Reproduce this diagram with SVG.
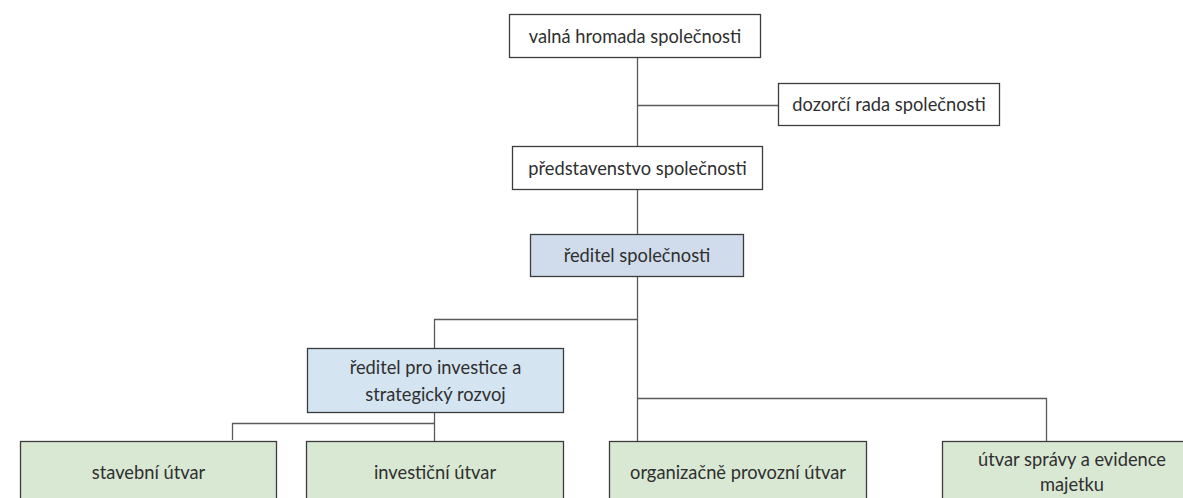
<svg xmlns="http://www.w3.org/2000/svg" width="1183" height="498" viewBox="0 0 1183 498">
<style>
.box{stroke:#3c3c3c;stroke-width:1.3}
.w{fill:#ffffff}
.b1{fill:#d0dcec}
.b2{fill:#d4e4f1}
.g{fill:#d9e8d3}
.t{font-family:Lato,"Open Sans","Liberation Sans",sans-serif;font-size:18.3px;fill:#2f2f2f;text-anchor:middle;dominant-baseline:central}
.c{fill:none;stroke:#5a5a5a;stroke-width:1.3}
</style>
<rect width="1183" height="498" fill="#ffffff"/>
<g id="connectors">
<path class="c" d="M637.5 57V146"/>
<path class="c" d="M637.5 105.5H778"/>
<path class="c" d="M637.5 189V234"/>
<path class="c" d="M637.5 276V441"/>
<path class="c" d="M637.5 319.5H434.5V348"/>
<path class="c" d="M637.5 398.5H1046.5V441"/>
<path class="c" d="M434.5 412V441"/>
<path class="c" d="M434.5 423.5H232.5V440"/>
</g>
<g id="valna">
<rect class="box w" x="509.5" y="14.5" width="251" height="43"/>
<text class="t" x="635" y="35.5">valná hromada společnosti</text>
</g>
<g id="dozorci">
<rect class="box w" x="778.5" y="83.5" width="221" height="42"/>
<text class="t" x="889" y="104">dozorčí rada společnosti</text>
</g>
<g id="predstavenstvo">
<rect class="box w" x="512.5" y="146.5" width="250" height="43"/>
<text class="t" x="637.5" y="167.5">představenstvo společnosti</text>
</g>
<g id="reditel">
<rect class="box b1" x="530.5" y="234.5" width="213" height="42"/>
<text class="t" x="637" y="255">ředitel společnosti</text>
</g>
<g id="reditel-investice">
<rect class="box b2" x="307.5" y="348.5" width="256" height="64"/>
<text class="t" x="435.5" y="366.5">ředitel pro investice a</text>
<text class="t" x="435.5" y="393.5">strategický rozvoj</text>
</g>
<g id="stavebni">
<rect class="box g" x="20.5" y="441.5" width="256" height="70"/>
<text class="t" x="148.5" y="472">stavební útvar</text>
</g>
<g id="investicni">
<rect class="box g" x="306.5" y="441.5" width="257" height="70"/>
<text class="t" x="435" y="472">investiční útvar</text>
</g>
<g id="organizacne">
<rect class="box g" x="609.5" y="441.5" width="257" height="70"/>
<text class="t" x="738" y="472">organizačně provozní útvar</text>
</g>
<g id="utvar-spravy">
<rect class="box g" x="942.5" y="441.5" width="258" height="70"/>
<text class="t" x="1072" y="459">útvar správy a evidence</text>
<text class="t" x="1072" y="484">majetku</text>
</g>
</svg>
